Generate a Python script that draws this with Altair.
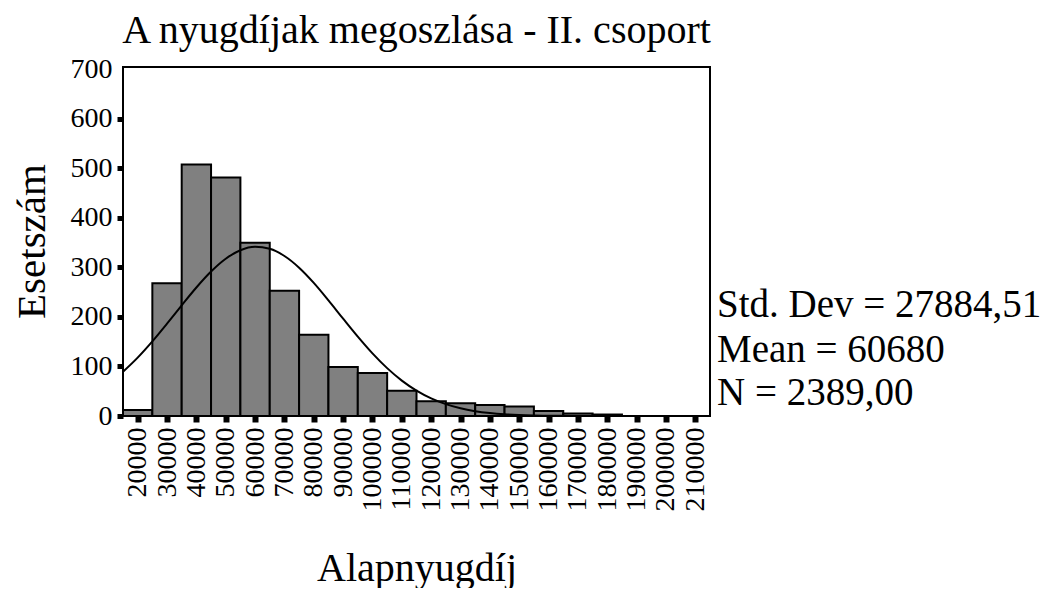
import altair as alt
import pandas as pd

# Histogram bins (lower edges, width 10000) and counts
bin_start = [15000, 25000, 35000, 45000, 55000, 65000, 75000, 85000, 95000, 105000,
             115000, 125000, 135000, 145000, 155000, 165000, 175000, 185000, 195000, 205000]
counts = [12, 268, 508, 482, 350, 253, 164, 99, 87, 51,
          30, 26, 22, 19, 10, 5, 3, 0, 0, 0]
tick_values = [20000, 30000, 40000, 50000, 60000, 70000, 80000, 90000, 100000, 110000,
               120000, 130000, 140000, 150000, 160000, 170000, 180000, 190000, 200000, 210000]
y_ticks = [0, 100, 200, 300, 400, 500, 600, 700]

# Normal curve overlay, read at 5000 steps
curve_x = [15000, 20000, 25000, 30000, 35000, 40000, 45000, 50000, 55000, 60000,
           65000, 70000, 75000, 80000, 85000, 90000, 95000, 100000, 105000, 110000,
           115000, 120000, 125000, 130000, 135000, 140000, 145000, 150000, 155000, 160000,
           165000, 170000, 175000, 180000, 190000, 200000, 215000]
curve_y = [89.3, 117.9, 150.7, 186.6, 223.6, 259.6, 291.8, 317.6, 334.8, 341.7,
           337.7, 323.2, 299.6, 268.9, 233.6, 196.6, 160.3, 126.5, 96.7, 71.5,
           51.3, 35.6, 23.9, 15.5, 9.8, 6.0, 3.5, 2.0, 1.1, 0.6,
           0.3, 0.1, 0.0, 0.0, 0.0, 0.0, 0.0]

stats = ["Std. Dev = 27884,51", "Mean = 60680", "N = 2389,00"]

FONT = "Liberation Serif, Times New Roman, Times, serif"

bars_df = pd.DataFrame({"start": bin_start, "count": counts})
bars_df["end"] = bars_df["start"] + 10000
bars_df = bars_df[bars_df["count"] > 0]
curve_df = pd.DataFrame({"x": curve_x, "y": curve_y})

xscale = alt.Scale(domain=[15000, 215000], nice=False, zero=False)
yscale = alt.Scale(domain=[0, 705], nice=False)

xaxis = alt.Axis(values=tick_values, format="d", labelAngle=270, labelFont=FONT,
                 labelFontSize=28, labelColor="black", labelPadding=5,
                 tickSize=6, tickWidth=6, tickColor="black", domain=False, grid=False,
                 labelOverlap=False, labelFlush=False,
                 title="Alapnyugdíj", titleFont=FONT, titleFontSize=40,
                 titleFontWeight="normal", titleColor="black",
                 titleBaseline="alphabetic", titleY=164)
yaxis = alt.Axis(values=y_ticks, labelFont=FONT, labelFontSize=28, labelColor="black",
                 labelPadding=5, tickSize=6, tickWidth=5,
                 tickColor={"condition": {"test": "datum.value >= 700", "value": "transparent"},
                            "value": "black"},
                 domain=False, grid=False, labelFlush=False,
                 title="Esetszám", titleFont=FONT, titleFontSize=41,
                 titleFontWeight="normal", titleColor="black",
                 titleBaseline="alphabetic", titleX=-79, titleY=174)

bars = alt.Chart(bars_df).mark_rect(fill="#808080", stroke="black", strokeWidth=2).encode(
    x=alt.X("start:Q", scale=xscale, axis=xaxis),
    x2="end:Q",
    y=alt.Y("count:Q", scale=yscale, axis=yaxis),
)

curve = alt.Chart(curve_df).mark_line(color="black", strokeWidth=2, interpolate="monotone").encode(
    x=alt.X("x:Q", scale=xscale, axis=xaxis),
    y=alt.Y("y:Q", scale=yscale, axis=yaxis),
)

def stat_text(txt, ypos):
    return alt.Chart(pd.DataFrame({"t": [txt]})).mark_text(
        font=FONT, fontSize=39, align="left", baseline="alphabetic", color="black"
    ).encode(text="t:N", x=alt.value(594), y=alt.value(ypos))

texts = [stat_text(stats[0], 250), stat_text(stats[1], 295), stat_text(stats[2], 338)]

chart = alt.layer(bars, curve, *texts).properties(
    width=587,
    height=349,
    title=alt.TitleParams("A nyugdíjak megoszlása - II. csoport", font=FONT, fontSize=40,
                          fontWeight="normal", color="black", anchor="middle", offset=4),
    autosize=alt.AutoSizeParams(type="none"),
    padding={"left": 115, "top": 59, "right": 335, "bottom": 172},
    background="white",
).configure_view(stroke="black", strokeWidth=2)

chart.save("out.html", embed_options={"renderer": "svg", "actions": False})
